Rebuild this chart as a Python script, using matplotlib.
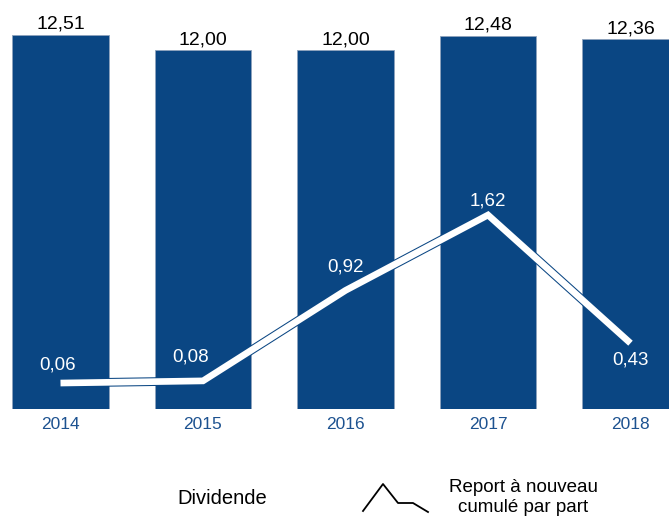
import matplotlib
matplotlib.use("Agg")
import matplotlib.pyplot as plt
import matplotlib.patheffects as pe
from matplotlib.lines import Line2D
import numpy as np

# ==================== Data ====================
years = ["2014", "2015", "2016", "2017", "2018"]
dividende = [12.51, 12.00, 12.00, 12.48, 12.36]
report = [0.06, 0.08, 0.92, 1.62, 0.43]

# label offsets for the line values (points), styling only
report_offsets = [(-2, 13), (-9, 17), (0, 17), (0, 10), (0, -12)]

BLUE = "#0a4683"
TICK_BLUE = "#1d5290"

plt.rcParams["font.family"] = ["Liberation Sans", "DejaVu Sans"]

fig = plt.figure(figsize=(6.69, 5.20), dpi=100)
ax = fig.add_axes([0, 111 / 520, 1, 379 / 520])
x = np.arange(len(years))

# bars
bars = ax.bar(x, dividende, width=0.68, color=BLUE, edgecolor="#8ea3bd", linewidth=0.6, zorder=2)
for xi, v in zip(x, dividende):
    ax.annotate(f"{v:.2f}".replace(".", ","), (xi, v), xytext=(0, 1.5), textcoords="offset points",
                ha="center", va="bottom", fontsize=14, color="black", zorder=5)

ax.set_xlim(-60.5 / 142.5, (669 - 60.5) / 142.5)
ax.set_ylim(0, 379 / 29.9)
ax.axis("off")

# year labels
for xi, y in zip(x, years):
    ax.annotate(y, (xi, 0), xytext=(0, -11), textcoords="offset points",
                ha="center", va="center", fontsize=12.5, color=TICK_BLUE, annotation_clip=False)

# secondary axis for the line
ax2 = ax.twinx()
ax2.set_position(ax.get_position())
ax2.set_ylim(-19.5 / 107.7, (409 - 30 - 19.5) / 107.7)
ax2.axis("off")
ax2.plot(x, report, color="white", lw=4.8, solid_capstyle="butt", solid_joinstyle="miter", zorder=3,
         path_effects=[pe.Stroke(linewidth=6.3, foreground=BLUE, capstyle="butt"), pe.Normal()])
for xi, v, off in zip(x, report, report_offsets):
    ax2.annotate(f"{v:.2f}".replace(".", ","), (xi, v), xytext=off, textcoords="offset points",
                 ha="center", va="center", fontsize=13.5, color="white", zorder=5)

# legend drawn by hand
fig.text(222 / 669, 1 - 498 / 520, "Dividende", ha="center", va="center", fontsize=14.5)
icon_x = np.array([363, 383, 398, 413, 428]) / 669
icon_y = 1 - np.array([511, 484, 503, 503, 512]) / 520
fig.add_artist(Line2D(icon_x, icon_y, color="black", lw=1.3, transform=fig.transFigure))
fig.text(523 / 669, 1 - 487 / 520, "Report à nouveau", ha="center", va="center", fontsize=13.5)
fig.text(523 / 669, 1 - 508 / 520, "cumulé par part", ha="center", va="center", fontsize=13.5)

fig.savefig("out.png", dpi=100)
